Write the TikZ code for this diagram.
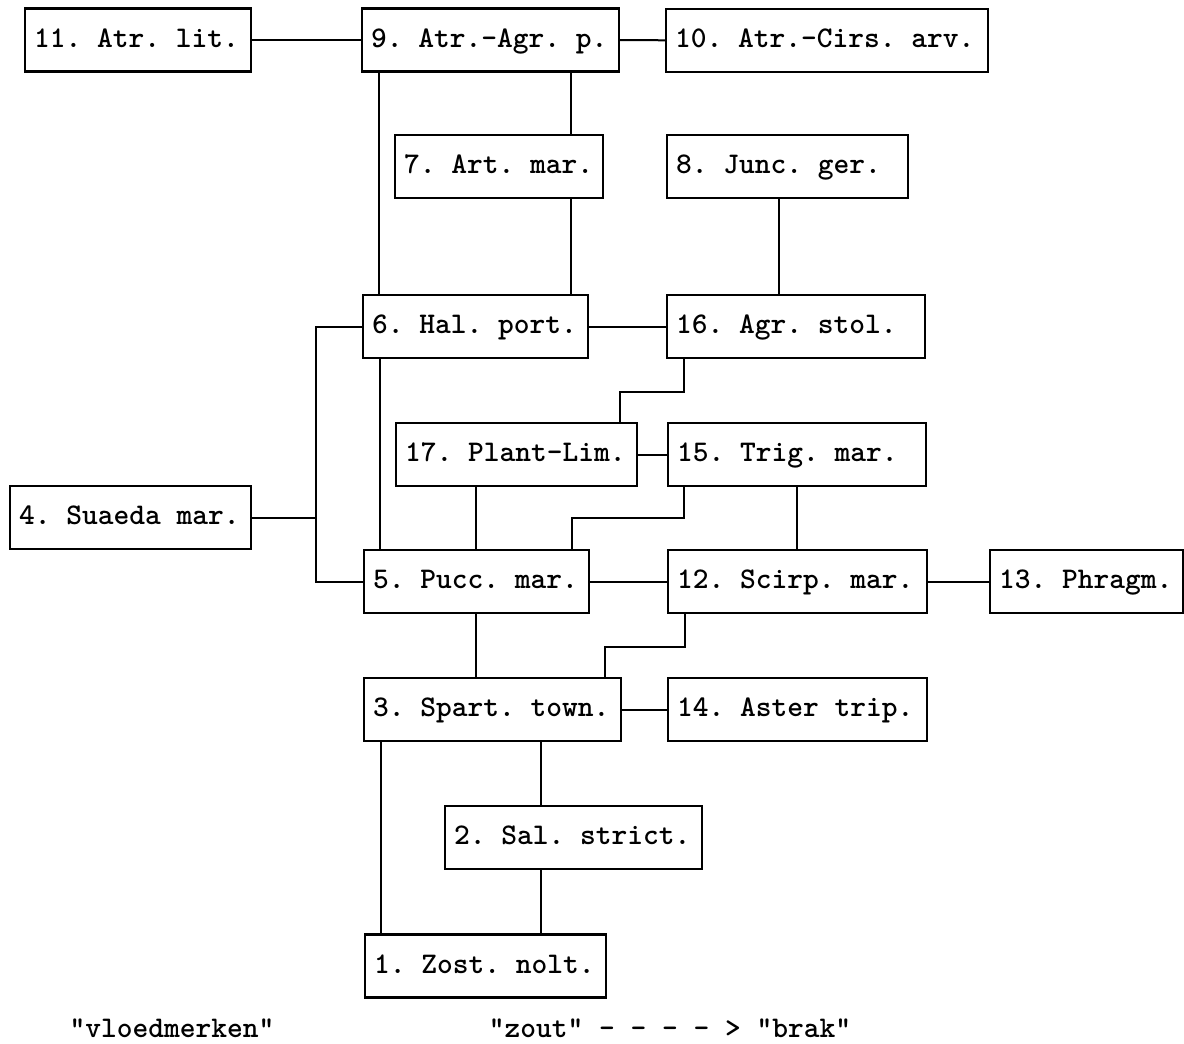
\documentclass[tikz,border=0pt]{standalone}
\usepackage{tikz}
\usetikzlibrary{calc, positioning}
\newcommand{\vegfont}{\ttfamily\bfseries\fontsize{15}{18}\selectfont\spaceskip 7.875pt\relax\frenchspacing}

\begin{document}
\begin{tikzpicture}[x=0.5pt, y=-0.5pt, font=\vegfont,
  veg/.style={draw, line width=1.2pt, anchor=west, inner xsep=4.5pt, inner ysep=2pt, outer sep=0pt, minimum height=31.5pt, text height=10pt, text depth=3pt, text width=#1*0.5pt-9pt, align=flush left},
  link/.style={line width=1pt}]
\useasboundingbox (0,0) rectangle (1184,1044);
\node[veg=226] (n11) at (25,40)    {11. Atr. lit.};
\node[veg=257] (n9)  at (362,40)   {9. Atr.-Agr. p.};
\node[veg=322] (n10) at (666,40.5) {10. Atr.-Cirs. arv.};
\node[veg=208] (n7)  at (395,166.5) {7. Art. mar.};
\node[veg=241] (n8)  at (667,166.5) {8. Junc. ger.};
\node[veg=225] (n6)  at (363,326.5) {6. Hal. port.};
\node[veg=258] (n16) at (667,326.5) {16. Agr. stol.};
\node[veg=241] (n17) at (396,454.5) {17. Plant-Lim.};
\node[veg=258] (n15) at (668,454.5) {15. Trig. mar.};
\node[veg=241] (n4)  at (10,517.5)  {4. Suaeda mar.};
\node[veg=225] (n5)  at (364,581.5) {5. Pucc. mar.};
\node[veg=259] (n12) at (668,581.5) {12. Scirp. mar.};
\node[veg=193] (n13) at (990,581.5) {13. Phragm.};
\node[veg=257] (n3)  at (364,709.5) {3. Spart. town.};
\node[veg=259] (n14) at (668,709.5) {14. Aster trip.};
\node[veg=257] (n2)  at (445,837.5) {2. Sal. strict.};
\node[veg=241] (n1)  at (365,966)   {1. Zost. nolt.};
\node (vloed) at (172,1028) {"vloedmerken"};
\node (zoutbrak) at (670,1028) {"zout" – – – – > "brak"};

\path[link]
(n11) edge (n9)
(n9)  edge (n10)
(n6)  edge (n16)
(n17) edge (n15)
(n5)  edge (n12)
(n12) edge (n13)
(n3)  edge (n14);

\draw[link] ($(n6.north west)+(16,0)$) -- ($(n6.north west |- n9.south)+(16,0)$);
\draw[link] ($(n7.north west)+(176,0)$) -- ($(n7.north west |- n9.south)+(176,0)$);
\draw[link] ($(n7.south west)+(176,0)$) -- ($(n7.south west |- n6.north)+(176,0)$);
\draw[link] ($(n8.south west)+(112,0)$) -- ($(n8.south west |- n16.north)+(112,0)$);
\draw[link] (n6.west) -| ($(n4.east)+(65,0)$) |- (n5.west);
\draw[link] (n4.east) -- ($(n4.east)+(65,0)$);
\draw[link] ($(n5.north west)+(16,0)$) -- ($(n5.north west |- n6.south)+(16,0)$);
\draw[link] ($(n16.south west)+(17,0)$) -- ++(0,34) -| ($(n17.north west)+(224,0)$);
\draw[link] ($(n17.south west)+(80,0)$) -- ($(n17.south west |- n5.north)+(80,0)$);
\draw[link] ($(n15.south west)+(16,0)$) -- ++(0,32) -| ($(n5.north west)+(208,0)$);
\draw[link] ($(n15.south west)+(129,0)$) -- ($(n15.south west |- n12.north)+(129,0)$);
\draw[link] ($(n5.south west)+(112,0)$) -- ($(n5.south west |- n3.north)+(112,0)$);
\draw[link] ($(n12.south west)+(17,0)$) -- ++(0,34) -| ($(n3.north west)+(241,0)$);
\draw[link] ($(n1.north west)+(16,0)$) -- ($(n1.north west |- n3.south)+(16,0)$);
\draw[link] ($(n2.north west)+(96,0)$) -- ($(n2.north west |- n3.south)+(96,0)$);
\draw[link] ($(n2.south west)+(96,0)$) -- ($(n2.south west |- n1.north)+(96,0)$);
\end{tikzpicture}
\end{document}
